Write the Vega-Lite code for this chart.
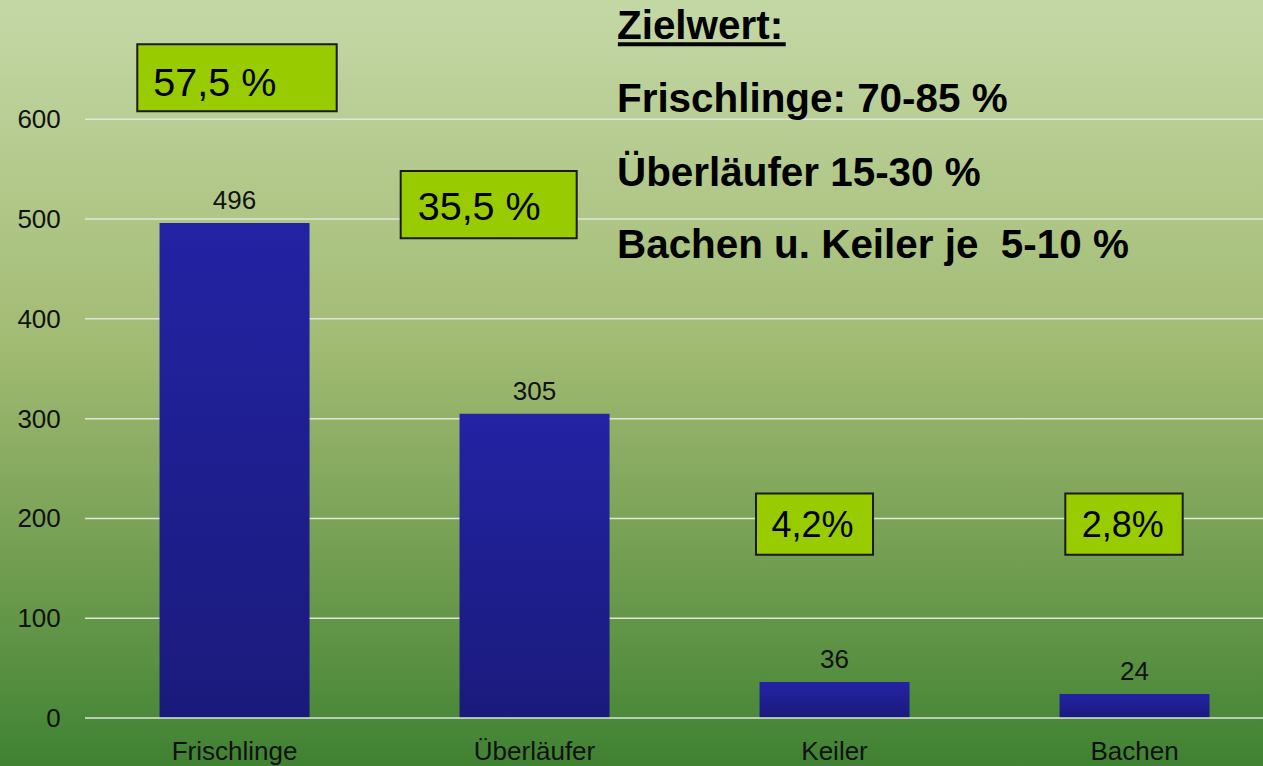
{
  "$schema": "https://vega.github.io/schema/vega-lite/v6.json",
  "width": 1263,
  "height": 766,
  "padding": 0,
  "autosize": {"type": "none"},
  "background": "#8fb062",
  "view": {
    "stroke": null,
    "fill": {
      "gradient": "linear", "x1": 0, "y1": 0, "x2": 0, "y2": 1,
      "stops": [
        {"offset": 0, "color": "#c4d8a6"},
        {"offset": 0.45, "color": "#a2bb73"},
        {"offset": 0.75, "color": "#6f9c4f"},
        {"offset": 1, "color": "#3f8232"}
      ]
    }
  },
  "config": {"font": "Liberation Sans", "text": {"font": "Liberation Sans"}},
  "datasets": {
    "counts": [
      {"cat": "Frischlinge", "n": 496},
      {"cat": "Überläufer", "n": 305},
      {"cat": "Keiler", "n": 36},
      {"cat": "Bachen", "n": 24}
    ],
    "grid": [{"v": 100}, {"v": 200}, {"v": 300}, {"v": 400}, {"v": 500}, {"v": 600}],
    "boxes": [
      {"label": "57,5 %", "x1": -0.3257, "x2": 0.339, "top": 675.2, "bottom": 608.0, "tx": -0.2723, "ty": 623.6},
      {"label": "35,5 %", "x1": 0.5523, "x2": 1.139, "top": 548.2, "bottom": 480.7, "tx": 0.609, "ty": 499.1},
      {"label": "4,2%", "x1": 1.7367, "x2": 2.1267, "top": 225.0, "bottom": 163.6, "tx": 1.7883, "ty": 181.4},
      {"label": "2,8%", "x1": 2.7677, "x2": 3.159, "top": 225.0, "bottom": 163.6, "tx": 2.8223, "ty": 181.4}
    ],
    "targets": [
      {"t": "Zielwert:", "y": 680.2},
      {"t": "Frischlinge: 70-85 %", "y": 607.6},
      {"t": "Überläufer 15-30 %", "y": 533.5},
      {"t": "Bachen u. Keiler je \u00a05-10 %", "y": 460.7}
    ]
  },
  "resolve": {"scale": {"x": "independent"}, "axis": {"y": "independent"}},
  "layer": [
    {
      "data": {"name": "grid"},
      "mark": {"type": "rule", "color": "#e2e6da", "strokeWidth": 1.5},
      "encoding": {
        "x": {"datum": -0.5, "type": "quantitative", "scale": {"domain": [-0.78333, 3.42667], "nice": false, "zero": false}, "axis": null},
        "x2": {"datum": 3.5},
        "y": {"field": "v", "type": "quantitative", "scale": {"domain": [-48.1, 719.56], "nice": false, "zero": false}, "axis": null}
      }
    },
    {
      "data": {"name": "counts"},
      "encoding": {
        "x": {
          "field": "cat", "type": "nominal", "sort": null,
          "scale": {"paddingInner": 0.5, "paddingOuter": 0.355, "align": 0.749, "round": false},
          "axis": {"orient": "bottom", "offset": -48, "domain": false, "ticks": false, "tickSize": 0, "grid": false, "labelAngle": 0, "labelFont": "Liberation Sans", "labelFontSize": 26, "labelColor": "#111111", "labelBaseline": "alphabetic", "labelPadding": 41.3, "title": null}
        },
        "y": {
          "field": "n", "type": "quantitative",
          "scale": {"domain": [-48.1, 719.56], "nice": false, "zero": false},
          "axis": {"orient": "left", "offset": -85, "values": [0, 100, 200, 300, 400, 500, 600], "domain": false, "ticks": false, "tickSize": 0, "grid": false, "labelFont": "Liberation Sans", "labelFontSize": 26, "labelColor": "#111111", "labelBaseline": "alphabetic", "labelOffset": 8.4, "labelPadding": 24.7, "labelFlush": false, "labelOverlap": false, "title": null}
        }
      },
      "layer": [
        {
          "mark": {
            "type": "bar",
            "color": {
              "gradient": "linear", "x1": 0, "y1": 0, "x2": 0, "y2": 1,
              "stops": [{"offset": 0, "color": "#2323a4"}, {"offset": 1, "color": "#1a1a7c"}]
            }
          },
          "encoding": {"y2": {"datum": 0}}
        },
        {
          "mark": {"type": "text", "baseline": "alphabetic", "dy": -14, "fontSize": 26, "color": "#111111"},
          "encoding": {"text": {"field": "n", "type": "quantitative"}}
        }
      ]
    },
    {
      "layer": [
        {
          "data": {"values": [{"v": 0}]},
          "mark": {"type": "rule", "color": "#e2e6da", "strokeWidth": 1.5},
          "encoding": {
            "x": {"datum": -0.5, "type": "quantitative", "scale": {"domain": [-0.78333, 3.42667], "nice": false, "zero": false}, "axis": null},
            "x2": {"datum": 3.5},
            "y": {"field": "v", "type": "quantitative", "scale": {"domain": [-48.1, 719.56], "nice": false, "zero": false}, "axis": null}
          }
        },
        {
          "data": {"name": "boxes"},
          "mark": {"type": "rect", "fill": "#99cc00", "stroke": "#1a1a1a", "strokeWidth": 2},
          "encoding": {
            "x": {"field": "x1", "type": "quantitative", "scale": {"domain": [-0.78333, 3.42667], "nice": false, "zero": false}, "axis": null},
            "x2": {"field": "x2"},
            "y": {"field": "top", "type": "quantitative", "scale": {"domain": [-48.1, 719.56], "nice": false, "zero": false}, "axis": null},
            "y2": {"field": "bottom"}
          }
        },
        {
          "data": {"name": "boxes"},
          "transform": [{"filter": {"field": "label", "oneOf": ["57,5 %", "35,5 %"]}}],
          "mark": {"type": "text", "align": "left", "baseline": "alphabetic", "fontSize": 39.5, "color": "#000000"},
          "encoding": {
            "x": {"field": "tx", "type": "quantitative", "scale": {"domain": [-0.78333, 3.42667], "nice": false, "zero": false}, "axis": null},
            "y": {"field": "ty", "type": "quantitative", "scale": {"domain": [-48.1, 719.56], "nice": false, "zero": false}, "axis": null},
            "text": {"field": "label"}
          }
        },
        {
          "data": {"name": "boxes"},
          "transform": [{"filter": {"not": {"field": "label", "oneOf": ["57,5 %", "35,5 %"]}}}],
          "mark": {"type": "text", "align": "left", "baseline": "alphabetic", "fontSize": 36, "color": "#000000"},
          "encoding": {
            "x": {"field": "tx", "type": "quantitative", "scale": {"domain": [-0.78333, 3.42667], "nice": false, "zero": false}, "axis": null},
            "y": {"field": "ty", "type": "quantitative", "scale": {"domain": [-48.1, 719.56], "nice": false, "zero": false}, "axis": null},
            "text": {"field": "label"}
          }
        },
        {
          "data": {"name": "targets"},
          "mark": {"type": "text", "align": "left", "baseline": "alphabetic", "fontSize": 40.4, "fontWeight": "bold", "color": "#000000"},
          "encoding": {
            "x": {"datum": 1.27333, "type": "quantitative", "scale": {"domain": [-0.78333, 3.42667], "nice": false, "zero": false}, "axis": null},
            "y": {"field": "y", "type": "quantitative", "scale": {"domain": [-48.1, 719.56], "nice": false, "zero": false}, "axis": null},
            "text": {"field": "t"}
          }
        },
        {
          "data": {"values": [{"u": "Zielwert:"}]},
          "mark": {"type": "rule", "color": "#000000", "strokeWidth": 4},
          "encoding": {
            "x": {"datum": 1.2763, "type": "quantitative", "scale": {"domain": [-0.78333, 3.42667], "nice": false, "zero": false}, "axis": null},
            "x2": {"datum": 1.8357},
            "y": {"datum": 675.2, "type": "quantitative", "scale": {"domain": [-48.1, 719.56], "nice": false, "zero": false}, "axis": null}
          }
        }
      ]
    }
  ]
}
